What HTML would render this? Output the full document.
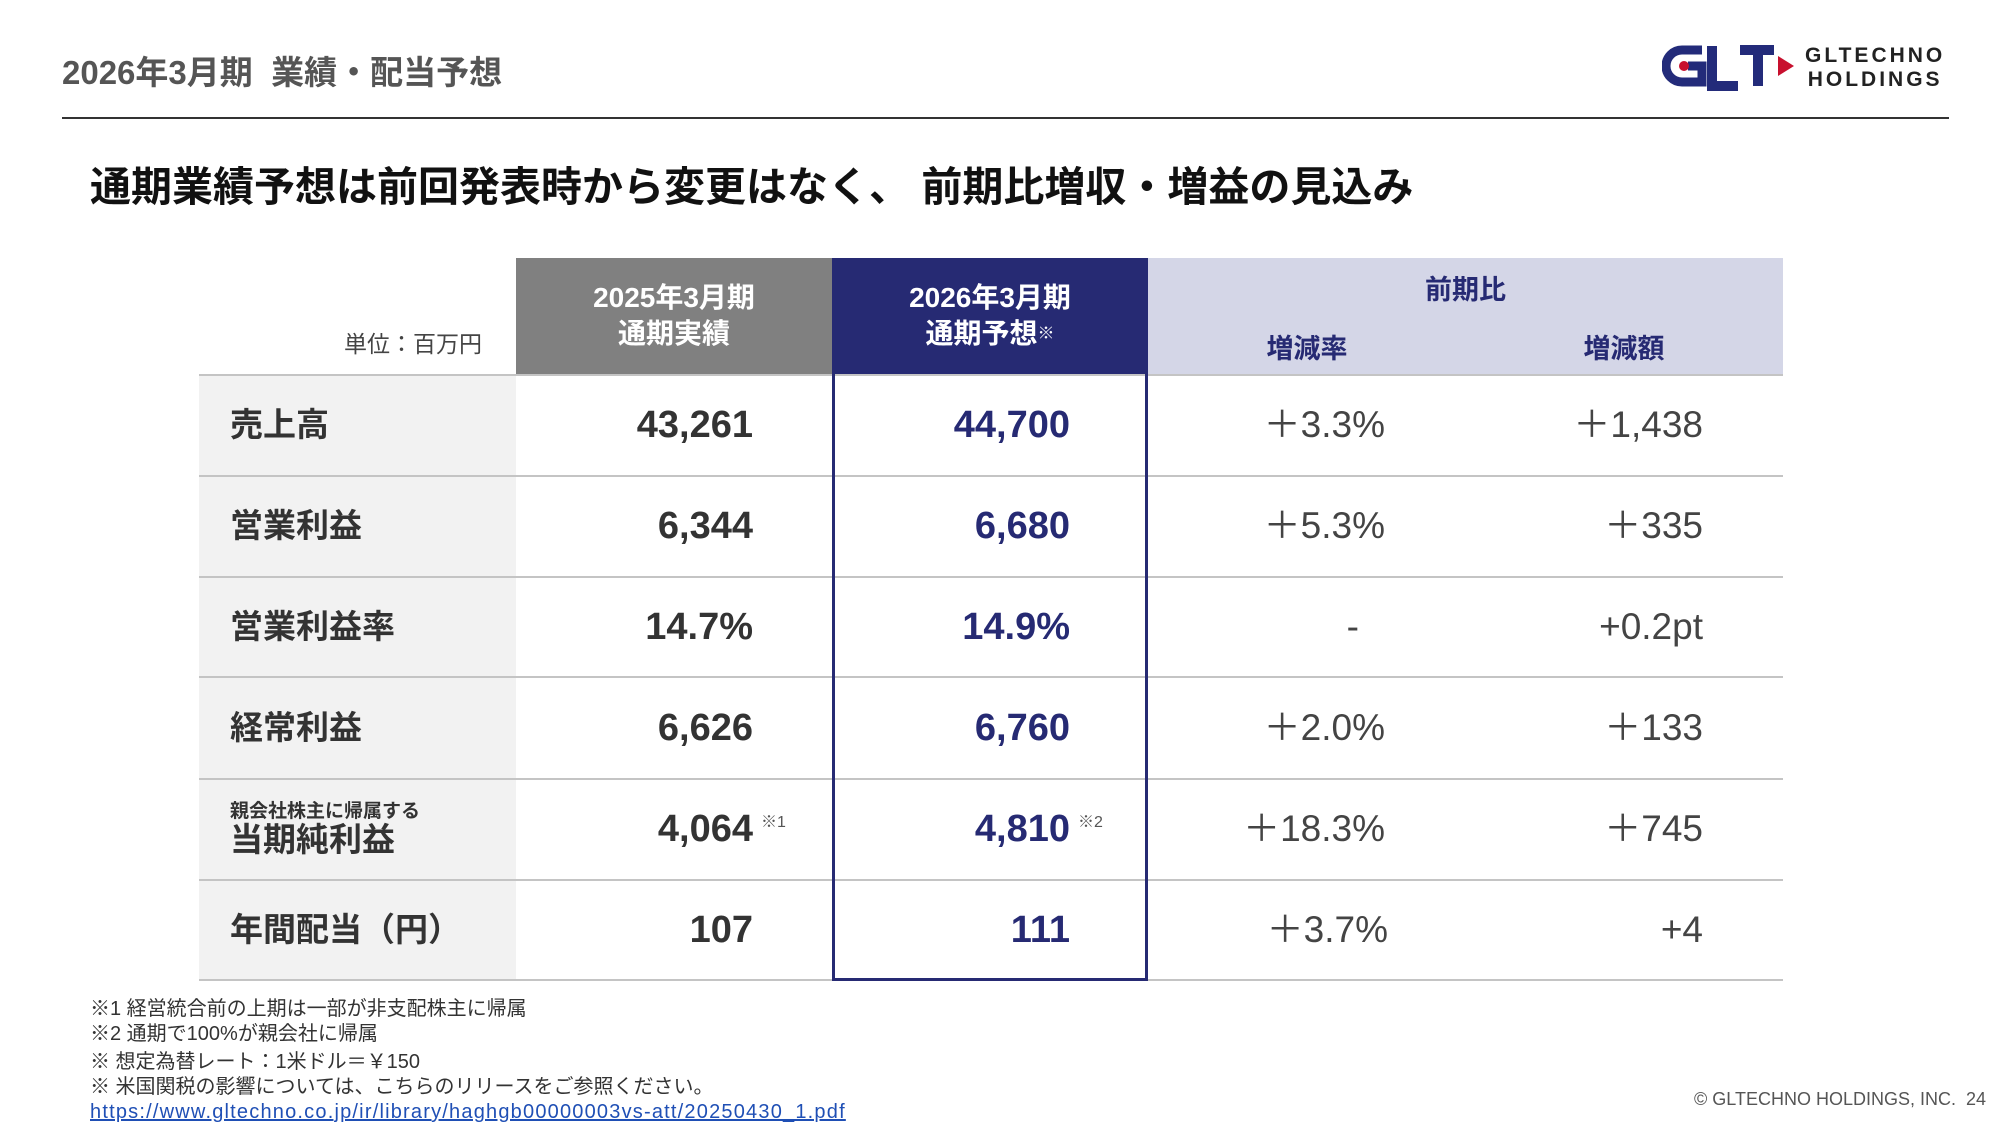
<!DOCTYPE html>
<html><head><meta charset="utf-8"><style>
*{margin:0;padding:0;box-sizing:border-box}
body{width:2001px;height:1125px;background:#fff;position:relative;overflow:hidden;font-family:"Liberation Sans","Noto Sans CJK JP",sans-serif}
.a{position:absolute;white-space:nowrap}
.r{height:50px;line-height:50px}
.lb{font-size:33px;font-weight:bold;color:#333;left:230px}
.n1{font-size:38px;font-weight:bold;color:#333;right:1248px}
.n2{font-size:38px;font-weight:bold;color:#262a73;right:931px}
.n3{font-size:37px;color:#444;right:616px}
.n4{font-size:37px;color:#444;right:298px}
.hl{position:absolute;left:199px;width:1584px;height:2px;background:#c4c4c4}
.fn{font-size:20px;color:#333;left:90px;line-height:24px}
.sup{font-size:16px;color:#555}
</style></head><body>
<div class="a" style="left:62px;top:46px;font-size:33px;font-weight:bold;color:#555">2026年3月期&nbsp; 業績・配当予想</div>
<svg class="a" style="left:1662px;top:42px" width="135" height="50" viewBox="0 0 135 50">
<path d="M40 8 H20 a16 16 0 0 0 0 32 H40 V24 H26" fill="none" stroke="#232b7a" stroke-width="9"/>
<circle cx="22" cy="24" r="5" fill="#c8102e"/>
<path d="M50 4 V44 H76" fill="none" stroke="#232b7a" stroke-width="10"/>
<path d="M78 8 H112 M96 8 V44" fill="none" stroke="#232b7a" stroke-width="10"/>
<path d="M116 14 L132 24 L116 34 Z" fill="#c8102e"/>
</svg>
<div class="a" style="left:1805px;top:44px;font-size:21px;font-weight:bold;color:#222;letter-spacing:3px;line-height:24px;text-align:center">GLTECHNO<br>HOLDINGS</div>
<div class="a" style="left:62px;top:117px;width:1887px;height:2px;background:#333"></div>
<div class="a" style="left:90px;top:153px;font-size:41px;font-weight:bold;color:#111">通期業績予想は前回発表時から変更はなく、 前期比増収・増益の見込み</div>

<div class="a" style="left:516px;top:258px;width:316px;height:117px;background:#808080"></div>
<div class="a" style="left:832px;top:258px;width:316px;height:117px;background:#262a73"></div>
<div class="a" style="left:1148px;top:258px;width:635px;height:117px;background:#d4d6e7"></div>
<div class="a" style="left:199px;top:375px;width:317px;height:605px;background:#f2f2f2"></div>
<div class="a" style="left:344px;top:325px;font-size:23px;color:#444">単位：百万円</div>
<div class="a" style="left:516px;top:280px;width:316px;text-align:center;font-size:28px;font-weight:bold;color:#fff;line-height:36px">2025年3月期<br>通期実績</div>
<div class="a" style="left:832px;top:280px;width:316px;text-align:center;font-size:28px;font-weight:bold;color:#fff;line-height:36px">2026年3月期<br>通期予想<span style="font-size:17px;vertical-align:top">※</span></div>
<div class="a" style="left:1148px;top:268px;width:635px;text-align:center;font-size:27px;font-weight:bold;color:#262a73">前期比</div>
<div class="a" style="left:1207px;top:327px;width:200px;text-align:center;font-size:27px;font-weight:bold;color:#262a73">増減率</div>
<div class="a" style="left:1524px;top:327px;width:200px;text-align:center;font-size:27px;font-weight:bold;color:#262a73">増減額</div>

<div class="hl" style="top:374px"></div>
<div class="hl" style="top:475px"></div>
<div class="hl" style="top:576px"></div>
<div class="hl" style="top:676px"></div>
<div class="hl" style="top:778px"></div>
<div class="hl" style="top:879px"></div>
<div class="hl" style="top:979px"></div>
<div class="a" style="left:832px;top:374px;width:316px;height:607px;border:3px solid #262a73;border-top:none"></div>

<div class="a r lb" style="top:400px">売上高</div>
<div class="a r lb" style="top:501px">営業利益</div>
<div class="a r lb" style="top:602px">営業利益率</div>
<div class="a r lb" style="top:703px">経常利益</div>
<div class="a" style="left:230px;top:796px;font-size:19px;font-weight:bold;color:#333">親会社株主に帰属する</div>
<div class="a r lb" style="top:815px">当期純利益</div>
<div class="a r lb" style="top:905px">年間配当（円）</div>

<div class="a r n1" style="top:400px">43,261</div>
<div class="a r n1" style="top:501px">6,344</div>
<div class="a r n1" style="top:602px">14.7%</div>
<div class="a r n1" style="top:703px">6,626</div>
<div class="a r n1" style="top:804px">4,064</div>
<div class="a sup" style="left:761px;top:808px">※1</div>
<div class="a r n1" style="top:905px">107</div>

<div class="a r n2" style="top:400px">44,700</div>
<div class="a r n2" style="top:501px">6,680</div>
<div class="a r n2" style="top:602px">14.9%</div>
<div class="a r n2" style="top:703px">6,760</div>
<div class="a r n2" style="top:804px">4,810</div>
<div class="a sup" style="left:1078px;top:808px">※2</div>
<div class="a r n2" style="top:905px">111</div>

<div class="a r n3" style="top:400px">＋3.3%</div>
<div class="a r n3" style="top:501px">＋5.3%</div>
<div class="a r n3" style="top:602px;right:642px">-</div>
<div class="a r n3" style="top:703px">＋2.0%</div>
<div class="a r n3" style="top:804px">＋18.3%</div>
<div class="a r n3" style="top:905px;right:613px">＋3.7%</div>

<div class="a r n4" style="top:400px">＋1,438</div>
<div class="a r n4" style="top:501px">＋335</div>
<div class="a r n4" style="top:602px">+0.2pt</div>
<div class="a r n4" style="top:703px">＋133</div>
<div class="a r n4" style="top:804px">＋745</div>
<div class="a r n4" style="top:905px">+4</div>

<div class="a fn" style="top:997px">※1 経営統合前の上期は一部が非支配株主に帰属</div>
<div class="a fn" style="top:1022px">※2 通期で100%が親会社に帰属</div>
<div class="a fn" style="top:1050px">※ 想定為替レート：1米ドル＝￥150</div>
<div class="a fn" style="top:1075px">※ 米国関税の影響については、こちらのリリースをご参照ください。</div>
<div class="a fn" style="top:1100px;color:#1f4fb5;text-decoration:underline;letter-spacing:1.2px">https://www.gltechno.co.jp/ir/library/haghgb00000003vs-att/20250430_1.pdf</div>
<div class="a" style="right:15px;top:1089px;font-size:18px;color:#555">© GLTECHNO HOLDINGS, INC.&nbsp; 24</div>
</body></html>
